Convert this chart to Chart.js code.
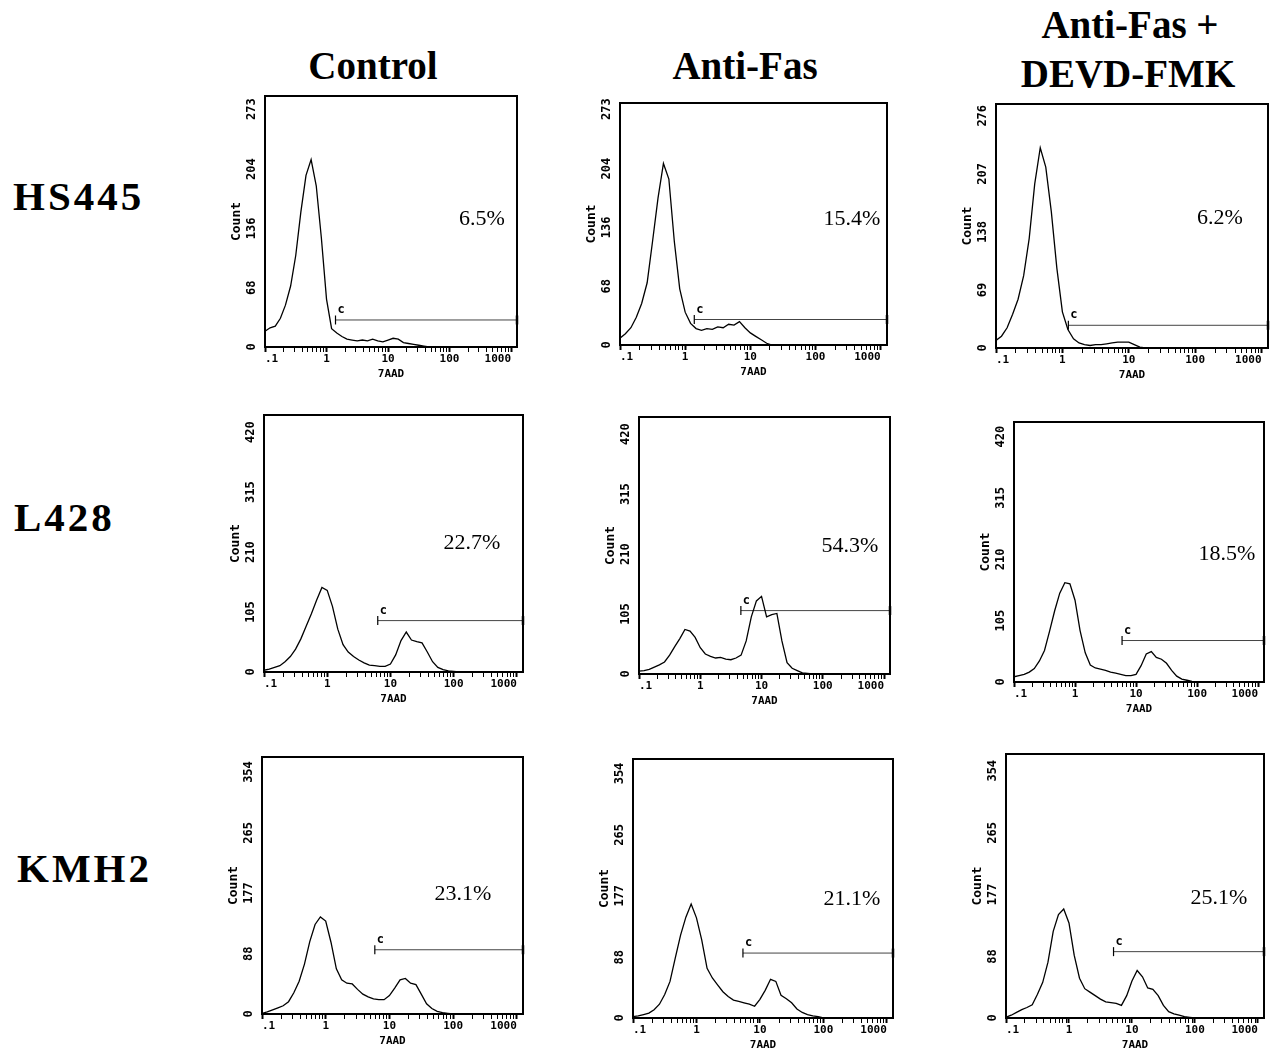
<!DOCTYPE html>
<html>
<head>
<meta charset="utf-8">
<title>7AAD histograms - HS445, L428, KMH2</title>
<script src="https://cdn.jsdelivr.net/npm/chart.js@4.4.1/dist/chart.umd.min.js"></script>
<style>
  html, body { margin: 0; padding: 0; background: #fff; }
  #figure { position: relative; width: 1272px; height: 1049px; overflow: hidden; background: #fff; }
  #figure canvas { position: absolute; }
  .heading { position: absolute; font-family: 'Liberation Serif', 'Times New Roman', serif; font-weight: bold;
             font-size: 39px; line-height: 1; color: #000; white-space: nowrap; transform: translateX(-50%); }
  .rowlabel { position: absolute; font-family: 'Liberation Serif', 'Times New Roman', serif; font-weight: bold;
              font-size: 41px; line-height: 1; letter-spacing: 3px; color: #000; white-space: nowrap; }
  .pct { position: absolute; font-family: 'Liberation Serif', 'Times New Roman', serif; font-size: 22px;
         line-height: 1; color: #000; white-space: nowrap; transform: translate(-50%, -50%); }
</style>
</head>
<body>
<div id="figure"></div>
<script>
// ---- Data ----

// Column and row names
const columnNames = ['Control', 'Anti-Fas', 'Anti-Fas +\nDEVD-FMK'];
const rowNames = ['HS445', 'L428', 'KMH2'];

// 7AAD channel positions (log axis, 1/12 decade steps)
const xChannels = [
  0.1, 0.121, 0.147, 0.178, 0.215, 0.261, 0.316, 0.383, 0.464, 0.562, 0.681, 0.825,
  1, 1.21, 1.47, 1.78, 2.15, 2.61, 3.16, 3.83, 4.64, 5.62, 6.81, 8.25,
  10, 12.1, 14.7, 17.8, 21.5, 26.1, 31.6, 38.3, 46.4, 56.2, 68.1, 82.5,
  100, 121, 147, 178, 215, 261, 316, 383, 464, 562, 681, 825,
  1000
];

// Counts per channel, one array per panel (row by row)
const hs445Control = [18,22,24,33,48,70,105,155,197,215,185,125,55,21,16,12,9,8,7,8,7,9,7,6,8,10,9,5,4,3,2,1,0,
  0,0,0,0,0,0,0,0,0,0,0,0,0,0,0,0];
const hs445AntiFas = [8,13,20,32,48,72,120,170,210,192,120,65,38,25,19,17,19,18,21,20,24,23,27,20,14,10,6,2,0,
  0,0,0,0,0,0,0,0,0,0,0,0,0,0,0,0,0,0,0,0];
const hs445Devd = [9,14,24,40,58,86,130,195,238,215,162,95,43,22,11,6,4,3,4,4,5,6,7,7,7,4,1,0,
  0,0,0,0,0,0,0,0,0,0,0,0,0,0,0,0,0,0,0,0,0];
const l428Control = [3,5,8,11,18,27,40,58,80,102,126,148,143,115,75,48,35,27,21,16,12,11,10,10,14,30,55,70,56,53,51,35,18,8,4,2,1,0,
  0,0,0,0,0,0,0,0,0,0,0];
const l428AntiFas = [5,6,8,12,16,21,33,48,62,78,75,64,46,35,31,28,29,26,25,28,33,58,100,128,136,100,104,106,58,20,10,6,2,1,0,
  0,0,0,0,0,0,0,0,0,0,0,0,0,0];
const l428Devd = [9,11,13,17,23,36,54,87,122,152,170,168,140,88,50,29,24,22,20,17,15,13,11,11,13,28,48,52,42,39,32,20,10,5,3,1,0,
  0,0,0,0,0,0,0,0,0,0,0,0];
const kmh2Control = [1,3,6,9,12,18,31,48,73,106,131,142,136,105,66,50,45,44,36,29,25,22,21,21,27,38,50,52,45,43,29,15,8,4,2,1,0,
  0,0,0,0,0,0,0,0,0,0,0,0];
const kmh2AntiFas = [2,3,5,7,12,20,34,53,87,120,146,165,145,113,72,58,48,38,31,26,24,22,20,17,27,40,56,53,33,28,22,13,8,5,3,2,0,
  0,0,0,0,0,0,0,0,0,0,0,0];
const kmh2Devd = [1,4,8,12,15,19,34,51,80,124,148,156,136,90,57,42,37,32,27,23,22,21,18,32,53,68,59,43,41,32,18,9,6,4,2,1,0,
  0,0,0,0,0,0,0,0,0,0,0,0];

const panelSeries = [hs445Control, hs445AntiFas, hs445Devd, l428Control, l428AntiFas, l428Devd, kmh2Control, kmh2AntiFas, kmh2Devd];

// First-channel pile-up at the left edge
const edgeCounts = [300, 300, 187, 236, 118, 185, 313, 118, 130];

// Y tick labels per panel
const yTickLabels = [
  ['0', '68', '136', '204', '273'], ['0', '68', '136', '204', '273'], ['0', '69', '138', '207', '276'],
  ['0', '105', '210', '315', '420'], ['0', '105', '210', '315', '420'], ['0', '105', '210', '315', '420'],
  ['0', '88', '177', '265', '354'], ['0', '88', '177', '265', '354'], ['0', '88', '177', '265', '354']
];
const yMaxes = [288, 280, 290, 450, 450, 445, 376, 375, 378];

// X axis labels
const xMajorValues = [0.1, 1, 10, 100, 1000];
const xTickLabels = ['.1', '1', '10', '100', '1000'];
const xMax = 1250;

// Gate "C" (start on 7AAD axis, height in counts) and percentage in gate
const gateStarts = [1.4, 1.38, 1.23, 6.3, 4.6, 5.9, 5.9, 5.4, 5.1];
const gateLevels = [31, 29.5, 27, 90, 111, 71, 94, 94, 95];
const gatePercents = ['6.5%', '15.4%', '6.2%', '22.7%', '54.3%', '18.5%', '23.1%', '21.1%', '25.1%'];

// ---- Layout ----

// Plot frame of each panel: [left, top, width, height]
const panelBoxes = [
  [265, 96, 255, 251], [620, 103, 270, 242], [996, 104, 275, 244],
  [264, 415, 262, 257], [639, 417, 254, 257], [1014, 422, 253, 260],
  [262, 757, 264, 257], [633, 759, 263, 259], [1006, 754, 261, 264]
];
// Centre of the percentage text
const pctPositions = [
  [482, 218], [852, 218], [1220, 217],
  [472, 542], [850, 545], [1227, 553],
  [463, 893], [852, 898], [1219, 897]
];

const Y_AXIS_W = 36;
const X_AXIS_H = 34;
const PAD_TOP = 12;
const PAD_RIGHT = 4;

const xTickFont = { family: "'DejaVu Sans Mono', monospace", weight: 'bold', size: 11 };
const yTickFont = { family: "'DejaVu Sans Mono', monospace", weight: 'bold', size: 12 };
const titleFont = { family: "'DejaVu Sans Mono', monospace", weight: 'bold', size: 13 };

const figure = document.getElementById('figure');

// Minor ticks 1..9 per decade
const xTickValues = [];
for (let d = 0; d < xMajorValues.length - 1; d++) {
  for (let k = 1; k <= 9; k++) xTickValues.push(xMajorValues[d] * k);
}
xTickValues.push(xMajorValues[xMajorValues.length - 1]);

/**
 * Frame around the plot and the small "c" over the gate start
 */
const framePlugin = {
  id: 'frameAndGate',
  afterDraw(chart) {
    const { ctx, chartArea } = chart;
    const i = chart.options.plugins.frameAndGate.panel;
    ctx.save();
    ctx.strokeStyle = '#000';
    ctx.lineWidth = 2;
    ctx.strokeRect(chartArea.left, chartArea.top, chartArea.right - chartArea.left, chartArea.bottom - chartArea.top);

    const gx = chart.scales.x.getPixelForValue(gateStarts[i]);
    const gy = chart.scales.y.getPixelForValue(gateLevels[i]);
    ctx.fillStyle = '#000';
    ctx.font = "bold 12px 'DejaVu Sans Mono', monospace";
    ctx.textAlign = 'left';
    ctx.textBaseline = 'bottom';
    ctx.fillText('c', gx + 2, gy - 4);
    ctx.restore();
  }
};

function addText(cls, text, left, top) {
  const el = document.createElement('div');
  el.className = cls;
  el.textContent = text;
  el.style.left = left + 'px';
  el.style.top = top + 'px';
  figure.appendChild(el);
  return el;
}

function buildPanel(i) {
  const [left, top, w, h] = panelBoxes[i];
  const canvas = document.createElement('canvas');
  canvas.width = w + Y_AXIS_W + PAD_RIGHT;
  canvas.height = h + PAD_TOP + X_AXIS_H;
  canvas.style.left = (left - Y_AXIS_W) + 'px';
  canvas.style.top = (top - PAD_TOP) + 'px';
  figure.appendChild(canvas);

  const counts = panelSeries[i];
  const histogram = [{ x: xChannels[0], y: edgeCounts[i] }]
    .concat(xChannels.map((x, k) => ({ x: x, y: counts[k] })));
  const gate = [{ x: gateStarts[i], y: gateLevels[i] }, { x: xMax, y: gateLevels[i] }];

  return new Chart(canvas.getContext('2d'), {
    type: 'line',
    data: {
      datasets: [
        {
          data: histogram,
          borderColor: '#000',
          borderWidth: 1.3,
          pointRadius: 0,
          tension: 0,
          fill: false
        },
        {
          data: gate,
          borderColor: '#444',
          borderWidth: 1,
          pointStyle: 'line',
          pointRotation: 90,
          pointRadius: 4.5,
          pointBorderColor: '#000',
          pointBorderWidth: [1.2, 2.5],
          clip: false
        }
      ]
    },
    options: {
      responsive: false,
      animation: false,
      events: [],
      layout: { padding: { top: PAD_TOP, right: PAD_RIGHT, left: 0, bottom: 0 } },
      plugins: {
        legend: { display: false },
        tooltip: { enabled: false },
        frameAndGate: { panel: i }
      },
      scales: {
        x: {
          type: 'logarithmic',
          min: xMajorValues[0],
          max: xMax,
          afterBuildTicks: s => { s.ticks = xTickValues.map(v => ({ value: v })); },
          afterFit: s => { s.height = X_AXIS_H; },
          border: { display: false },
          grid: {
            drawOnChartArea: false,
            drawTicks: true,
            tickLength: 5,
            tickColor: '#000',
            tickWidth: c => (c.tick && xMajorValues.includes(c.tick.value) ? 2 : 1)
          },
          ticks: {
            autoSkip: false,
            maxRotation: 0,
            minRotation: 0,
            align: 'inner',
            padding: 1,
            color: '#000',
            font: xTickFont,
            callback: v => {
              const j = xMajorValues.indexOf(v);
              return j >= 0 ? xTickLabels[j] : '';
            }
          },
          title: { display: true, text: '7AAD', color: '#000', font: xTickFont, padding: { top: 0, bottom: 0 } }
        },
        y: {
          type: 'linear',
          min: 0,
          max: yMaxes[i],
          afterBuildTicks: s => { s.ticks = yTickLabels[i].map(t => ({ value: Number(t) })); },
          afterFit: s => { s.width = Y_AXIS_W; },
          border: { display: false },
          grid: { display: false, drawTicks: false },
          ticks: {
            minRotation: 90,
            maxRotation: 90,
            crossAlign: 'center',
            padding: 2,
            color: '#000',
            font: yTickFont,
            callback: (v, idx) => yTickLabels[i][idx]
          },
          title: { display: true, text: 'Count', color: '#000', font: titleFont, padding: { top: 0, bottom: 0 } }
        }
      }
    },
    plugins: [framePlugin]
  });
}

// Column headings
addText('heading', 'Control', 373, 46);
addText('heading', 'Anti-Fas', 745, 46);
const devdLines = columnNames[2].split('\n');
addText('heading', devdLines[0], 1130, 5);
addText('heading', devdLines[1], 1128, 54);

// Row labels
addText('rowlabel', rowNames[0], 13, 176);
addText('rowlabel', rowNames[1], 14, 497);
addText('rowlabel', rowNames[2], 17, 848);

// Panels
for (let i = 0; i < panelBoxes.length; i++) {
  buildPanel(i);
  addText('pct', gatePercents[i], pctPositions[i][0], pctPositions[i][1]);
}
</script>
</body>
</html>
